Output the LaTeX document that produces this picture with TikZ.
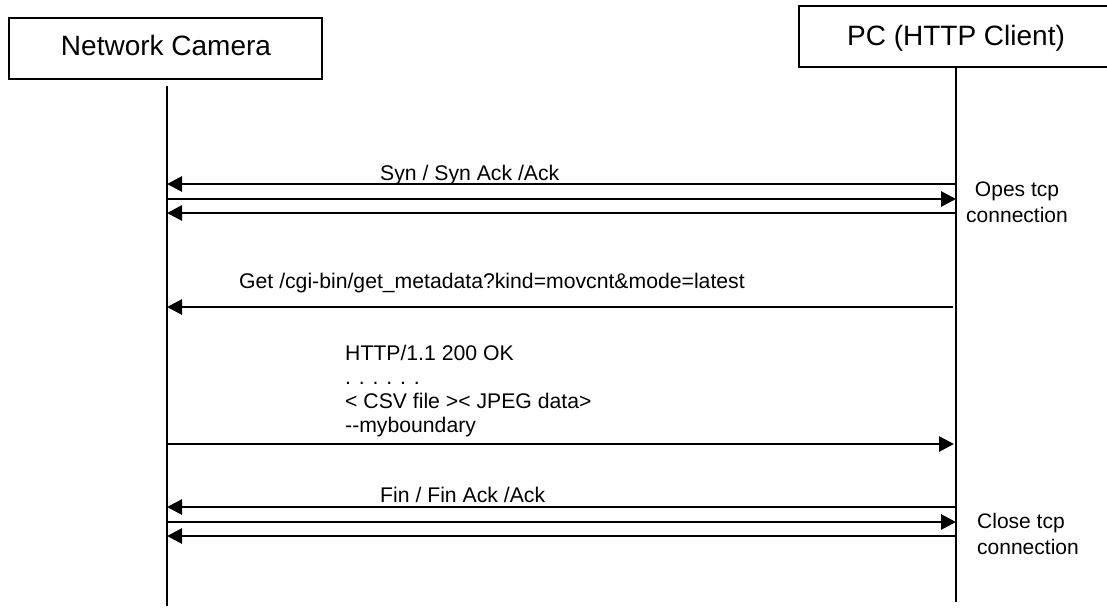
\documentclass[tikz,border=0pt]{standalone}
\usepackage{fontspec}
\setmainfont{Liberation Sans}
\usetikzlibrary{arrows.meta}
\begin{document}
\begin{tikzpicture}[x=1pt,y=-1pt,
  actor/.style={draw,line width=2pt,minimum height=61pt,inner sep=0pt,font=\fontsize{28}{32}\selectfont},
  lifeline/.style={line width=2pt},
  msg/.style={line width=2.8pt,-{Triangle[length=15pt,width=15pt]}},
  lbl/.style={inner sep=0pt,anchor=base west,font=\fontsize{21.2}{24}\selectfont},
  note/.style={inner sep=0pt,align=left,font=\fontsize{21}{26}\selectfont}]
\useasboundingbox (0,0) rectangle (1107,608);
\fill[white] (0,0) rectangle (1107,608);
% actors
\node[actor,minimum width=313pt] (cam) at (165.5,48.5) {};
\node[inner sep=0pt,anchor=base,font=\fontsize{28}{32}\selectfont] (camt) at (166,55) {Network Camera};
\node[actor,minimum width=314pt] (pc) at (956,36.5) {};
\node[inner sep=0pt,anchor=base,font=\fontsize{28}{32}\selectfont] (pct) at (956,45) {PC (HTTP Client)};
% lifelines
\coordinate (camtop) at (167,86);
\coordinate (cambot) at (167,606);
\coordinate (pctop) at (956,67);
\coordinate (pcbot) at (956,602);
\draw[lifeline] (camtop) -- (cambot);
\draw[lifeline] (pctop) -- (pcbot);
% open connection
\coordinate (L1) at (167,184); \coordinate (R1) at (956,184);
\coordinate (L2) at (167,199); \coordinate (R2) at (956,199);
\coordinate (L3) at (167,213); \coordinate (R3) at (956,213);
\draw[msg] (R1) -- (L1);
\draw[msg] (L2) -- (R2);
\draw[msg] (R3) -- (L3);
\node[lbl] (syn) at (380,180) {Syn / Syn Ack /Ack};
\node[note,align=center,anchor=north] (opes) at (1017,182) {Opes tcp\\connection};
% request
\coordinate (L4) at (167,307); \coordinate (R4) at (953,307);
\draw[msg] (R4) -- (L4);
\node[lbl] (get) at (239,288) {Get /cgi-bin/get\_metadata?kind=movcnt\&mode=latest};
% response
\coordinate (L5) at (167,444); \coordinate (R5) at (954,444);
\draw[msg] (L5) -- (R5);
\node[lbl] (r1) at (345,360) {HTTP/1.1 200 OK};
\node[lbl] (r2) at (345,384) {. . . . . .};
\node[lbl] (r3) at (345,408) {< CSV file >< JPEG data>};
\node[lbl] (r4) at (345,432) {-{}-myboundary};
% close connection
\coordinate (L6) at (167,507); \coordinate (R6) at (956,507);
\coordinate (L7) at (167,522); \coordinate (R7) at (956,522);
\coordinate (L8) at (167,536); \coordinate (R8) at (956,536);
\draw[msg] (R6) -- (L6);
\draw[msg] (L7) -- (R7);
\draw[msg] (R8) -- (L8);
\node[lbl] (fin) at (380,502) {Fin / Fin Ack /Ack};
\node[note,anchor=north west] (close) at (977,513) {Close tcp\\connection};
\end{tikzpicture}
\end{document}
